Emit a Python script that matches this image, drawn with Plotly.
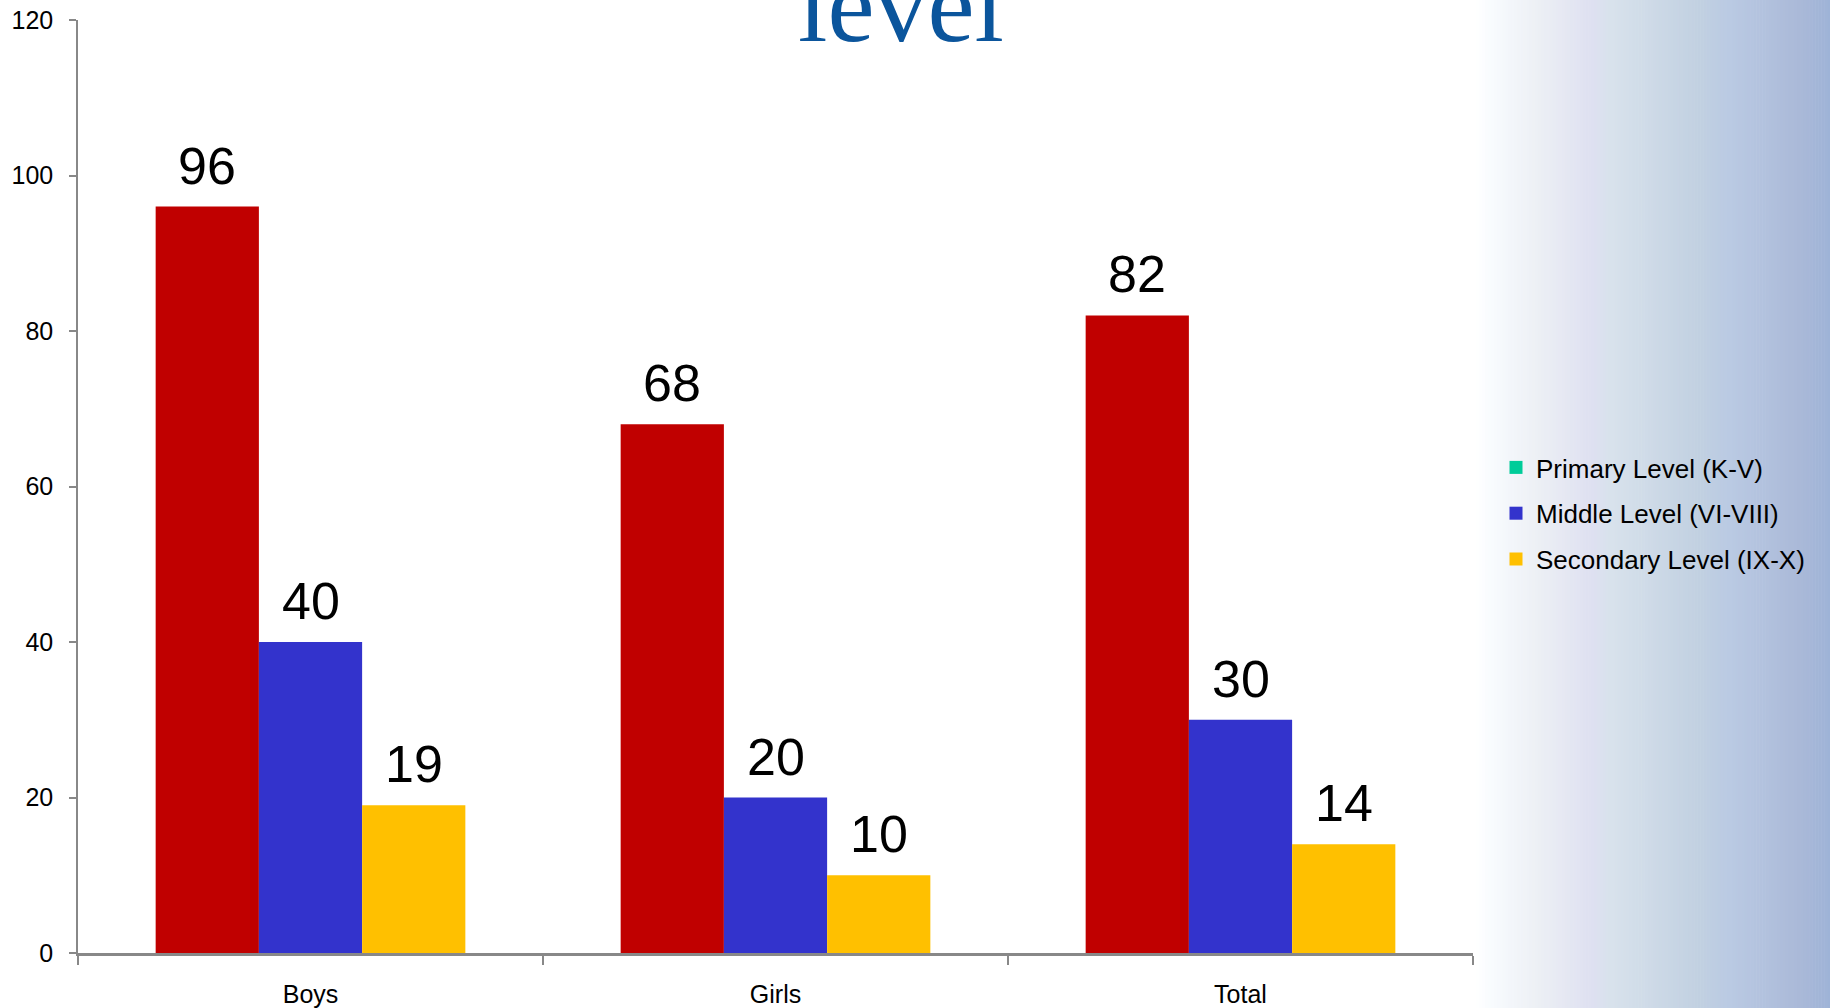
import plotly.graph_objects as go

categories = ["Boys", "Girls", "Total"]
series_names = ["Primary Level (K-V)", "Middle Level (VI-VIII)", "Secondary Level (IX-X)"]
primary = [96, 68, 82]
middle = [40, 20, 30]
secondary = [19, 10, 14]
y_ticks = [0, 20, 40, 60, 80, 100, 120]

bar_colors = ["#C00000", "#3333CC", "#FFC000"]
legend_colors = ["#00CC99", "#3333CC", "#FFC000"]

W, H = 1830, 1008
ML, MR, MT, MB = 78, 357, 20, 55
plot_w = W - ML - MR
plot_h = H - MT - MB
BARGAP = 0.334

fig = go.Figure()
all_series = [primary, middle, secondary]
for name, vals, col in zip(series_names, all_series, bar_colors):
    fig.add_trace(go.Bar(x=categories, y=vals, name=name, marker=dict(color=col, line=dict(width=0)),
                         showlegend=False))
for i, (name, col) in enumerate(zip(series_names, legend_colors)):
    fig.add_trace(go.Scatter(x=[None], y=[None], mode="markers", name=name, legendgroup=f"g{i}",
                             marker=dict(symbol="square", size=13, color=col, line=dict(width=0))))

# value labels above bars
cat_w = plot_w / len(categories)
bar_w = cat_w * (1 - BARGAP) / 3
for si, vals in enumerate(all_series):
    for c, v in zip(categories, vals):
        fig.add_annotation(x=c, y=v, xref="x", yref="y", text=str(v), showarrow=False,
                           xshift=(si - 1) * bar_w, yanchor="bottom", yshift=10,
                           font=dict(family="Liberation Sans, Arial", size=52, color="black"))

# title fragment (cut off at top)
fig.add_annotation(xref="paper", yref="paper", x=(901 - ML) / plot_w, y=1, yanchor="bottom",
                   yshift=-46, text="level", showarrow=False,
                   font=dict(family="Liberation Serif, Times New Roman", size=106, color="#0B559C"))

# right-side gradient background
stops = [(1476, (255, 255, 255)), (1492, (248, 251, 254)), (1540, (236, 239, 244)),
         (1592, (222, 224, 241)), (1612, (216, 226, 236)), (1700, (193, 208, 225)),
         (1730, (186, 202, 227)), (1800, (170, 185, 216)), (1830, (158, 179, 215))]
N = 120
x0p, x1p = 1476, 1830
for k in range(N):
    xa = x0p + (x1p - x0p) * k / N
    xb = x0p + (x1p - x0p) * (k + 1) / N + 0.6
    xm = (xa + xb) / 2
    for j in range(len(stops) - 1):
        if stops[j][0] <= xm <= stops[j + 1][0]:
            t = (xm - stops[j][0]) / (stops[j + 1][0] - stops[j][0])
            c = tuple(round(stops[j][1][q] + t * (stops[j + 1][1][q] - stops[j][1][q])) for q in range(3))
            break
    else:
        c = stops[-1][1]
    fig.add_shape(type="rect", xref="paper", yref="paper", layer="below",
                  x0=(xa - ML) / plot_w, x1=(min(xb, W + 2) - ML) / plot_w,
                  y0=-(MB + 30) / plot_h, y1=1 + (MT + 10) / plot_h,
                  fillcolor=f"rgb{c}", line=dict(width=0))

fig.update_layout(
    width=W, height=H,
    margin=dict(l=ML, r=MR, t=MT, b=MB, pad=0, autoexpand=False),
    paper_bgcolor="white", plot_bgcolor="rgba(0,0,0,0)",
    barmode="group", bargap=BARGAP, bargroupgap=0,
    font=dict(family="Liberation Sans, Arial", color="black"),
    legend=dict(x=(1536 - 40 - ML) / plot_w, xanchor="left", y=1 - (513.5 - MT) / plot_h, yanchor="middle",
                font=dict(size=26, color="black"), bgcolor="rgba(0,0,0,0)", tracegroupgap=9,
                itemclick=False),
    xaxis=dict(showline=True, linecolor="#888888", linewidth=3, ticks="outside", tickson="boundaries",
               ticklen=9, tickcolor="#888888", tickwidth=1.5, showgrid=False, zeroline=False,
               automargin=False, tickfont=dict(size=25, color="black"), ticklabelstandoff=17),
    yaxis=dict(range=[0, 120], tickvals=y_ticks, showline=True, linecolor="#888888", linewidth=1.5,
               ticks="outside", ticklen=7, tickcolor="#888888", tickwidth=1.5, showgrid=False,
               zeroline=False, automargin=False, tickfont=dict(size=25, color="black"),
               ticklabelstandoff=11),
)

fig.write_html("out.html", config={"displayModeBar": False},
               post_script="document.body.style.margin='0';document.body.style.overflow='hidden';"
                           "document.documentElement.style.overflow='hidden';")
